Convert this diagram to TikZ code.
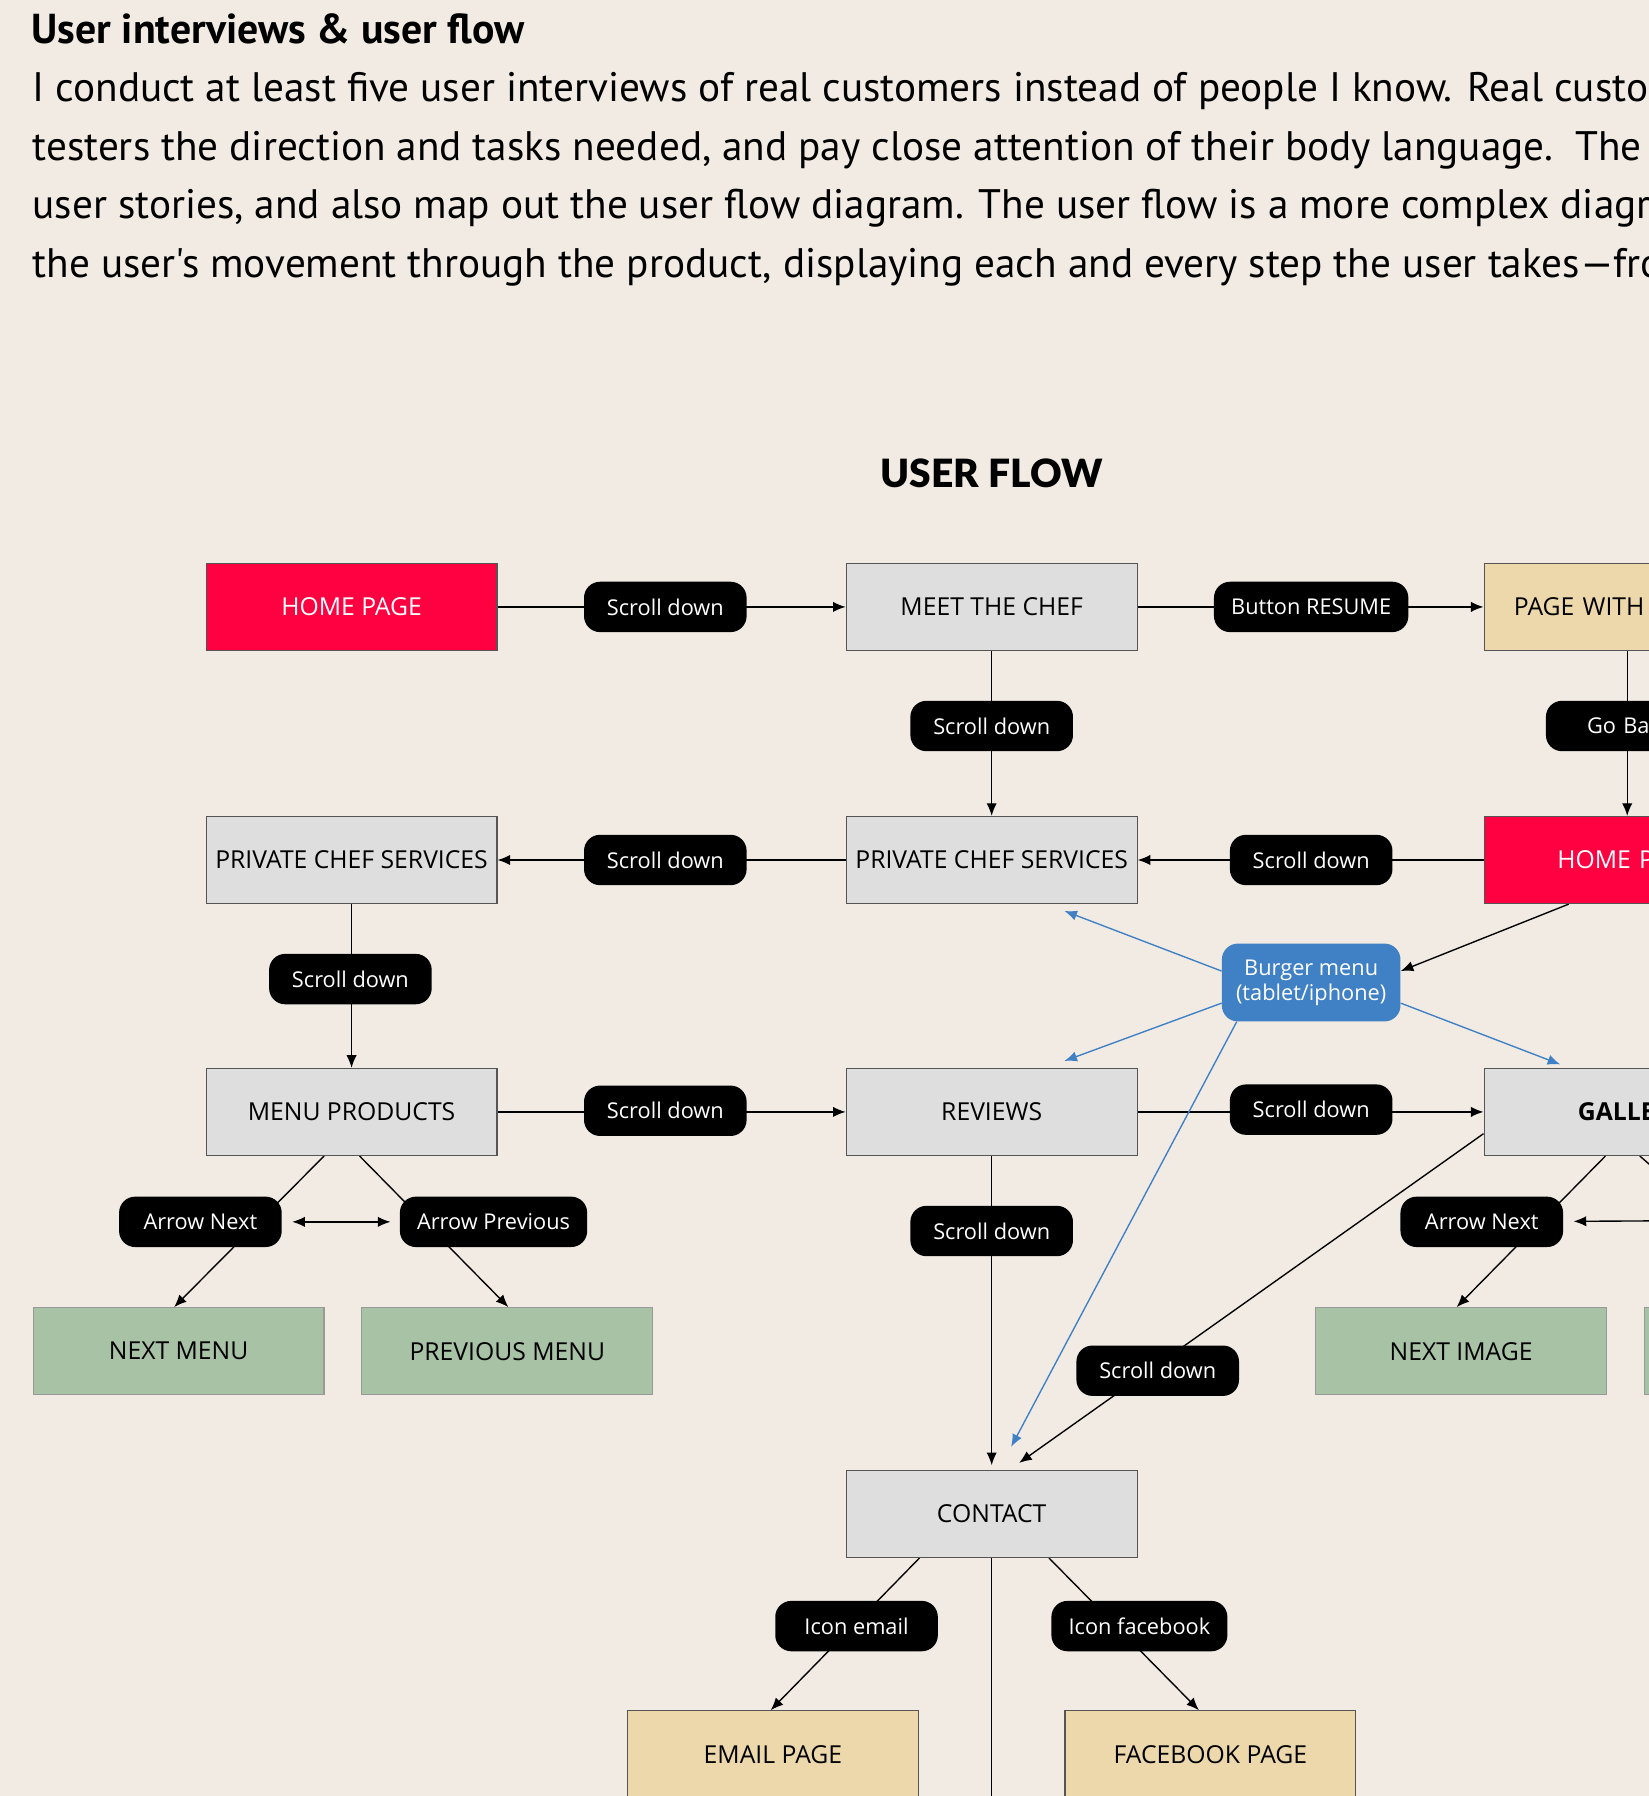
\documentclass[tikz,border=0pt]{standalone}
\usepackage{fontspec}
\setmainfont{Open Sans}
\newfontfamily\introfont{PT Sans}[Ligatures=TeXOff]
\newfontfamily\heavyfont{Lato Black}
\usetikzlibrary{arrows.meta,backgrounds}

\definecolor{pagebg}{HTML}{F2EBE4}
\definecolor{boxgray}{HTML}{DEDEDE}
\definecolor{boxred}{HTML}{FF0040}
\definecolor{boxsand}{HTML}{EDD8AB}
\definecolor{boxgreen}{HTML}{A7C2A5}
\definecolor{burgerblue}{HTML}{4080C5}
\definecolor{boxline}{HTML}{555555}

\begin{document}
\begin{tikzpicture}[x=1pt,y=-1pt,>={Latex[length=11pt,width=9pt]},
    pagebox/.style={draw=boxline, line width=1pt, minimum width=254pt, minimum height=76pt, inner sep=0pt, font=\fontsize{21.6}{26}\selectfont},
    graybox/.style={pagebox, fill=boxgray},
    redbox/.style={pagebox, fill=boxred, text=white},
    sandbox/.style={pagebox, fill=boxsand},
    greenbox/.style={pagebox, fill=boxgreen, draw=black!40},
    pill/.style={fill=black, text=white, rounded corners=14pt, minimum width=142pt, minimum height=44pt, inner xsep=15pt, font=\fontsize{19}{23}\selectfont},
    introtext/.style={anchor=base west, font=\fontsize{36}{42}\introfont},
    link/.style={line width=1.2pt},
    bluelink/.style={line width=1.2pt, draw=burgerblue, >={Latex[length=11pt,width=9pt,color=burgerblue]}}]

    \useasboundingbox (0,0) rectangle (1440,1568.4);
    \clip (0,0) rectangle (1440,1568.4);

    % Heading and text
    \node[anchor=base west, font=\fontsize{36.5}{42}\introfont\bfseries] (heading) at (24,38) {User interviews \& user flow};
    \node[introtext] (line1) at (25,89) {I conduct at least five user interviews of real customers instead of people I know. Real custom};
    \node[introtext] (line2) at (25,140) {testers the direction and tasks needed, and pay close attention of their body language.\ \ The};
    \node[introtext] (line3) at (25,191) {user stories, and also map out the user flow diagram. The user flow is a more complex diagram};
    \node[introtext] (line4) at (25,242) {the user's movement through the product, displaying each and every step the user takes—fro};

    \node[font=\fontsize{34}{40}\heavyfont] (flowtitle) at (866,413) {USER FLOW};

    % Pages
    \node[redbox] (home) at (307,530) {HOME PAGE};
    \node[graybox] (chef) at (866,530) {MEET THE CHEF};
    \node[sandbox, inner xsep=26pt, text width=202pt, align=left] (resume) at (1423,530) {PAGE WITH};
    \node[graybox] (servicesl) at (307,751) {PRIVATE CHEF SERVICES};
    \node[graybox] (servicesm) at (866,751) {PRIVATE CHEF SERVICES};
    \node[redbox, inner xsep=64pt, text width=126pt, align=left] (homer) at (1423,751) {HOME P};
    \node[graybox] (menu) at (307,971) {MENU PRODUCTS};
    \node[graybox] (reviews) at (866,971) {REVIEWS};
    \node[graybox, inner xsep=82pt, text width=90pt, align=left, font=\fontsize{21.6}{26}\selectfont\bfseries] (gallery) at (1423,971) {GALLE};
    \node[greenbox] (nextmenu) at (156,1180) {NEXT MENU};
    \node[greenbox] (prevmenu) at (443,1180) {PREVIOUS MENU};
    \node[greenbox] (nextimage) at (1276,1180) {NEXT IMAGE};
    \node[greenbox] (previmage) at (1563,1180) {};
    \node[graybox] (contact) at (866,1322) {CONTACT};
    \node[sandbox] (email) at (675,1532) {EMAIL PAGE};
    \node[sandbox] (facebook) at (1057,1532) {FACEBOOK PAGE};

    % Actions
    \node[pill] (scroll1) at (581,530) {Scroll down};
    \node[pill] (button) at (1145,530) {Button RESUME};
    \node[pill] (scroll2) at (866,634) {Scroll down};
    \node[pill, inner xsep=36pt, text width=70pt, align=left] (goback) at (1421,634) {Go Ba};
    \node[pill] (scroll3) at (581,751) {Scroll down};
    \node[pill] (scroll4) at (1145,751) {Scroll down};
    \node[pill] (scroll5) at (306,855) {Scroll down};
    \node[pill, fill=burgerblue, minimum width=156pt, minimum height=68pt, inner xsep=6pt, align=center, font=\fontsize{19}{22}\selectfont] (burger) at (1145,858) {Burger menu\\(tablet/iphone)};
    \node[pill] (scroll6) at (581,970) {Scroll down};
    \node[pill] (scroll7) at (1145,969) {Scroll down};
    \node[pill] (arrownext) at (175,1067) {Arrow Next};
    \node[pill] (arrowprev) at (431,1067) {Arrow Previous};
    \node[pill] (scroll8) at (866,1075) {Scroll down};
    \node[pill] (scroll9) at (1011,1197) {Scroll down};
    \node[pill] (arrownext2) at (1294,1067) {Arrow Next};
    \node[pill] (iconemail) at (748,1420) {Icon email};
    \node[pill] (iconfb) at (995,1420) {Icon facebook};

    % Off-page ends
    \coordinate (galleryout) at (1490,1060);
    \coordinate (arrowin) at (1470,1066);
    \coordinate (contactout) at (866,1600);

    \begin{pgfonlayer}{background}
    \clip (0,0) rectangle (1440,1568.4);
    \fill[pagebg] (0,0) rectangle (1440,1568.4);

    % Connectors
    \draw[link,->] (home) -- (chef);
    \draw[link,->] (chef) -- (resume);
    \draw[link,->] (chef) -- (servicesm);
    \draw[link,->] ([xshift=-2pt]resume.south) -- ([xshift=-2pt]homer.north);
    \draw[link,->] (servicesm) -- (servicesl);
    \draw[link,->] (homer) -- (servicesm);
    \draw[link,->] (servicesl) -- (menu);
    \draw[link,->] (menu) -- (reviews);
    \draw[link,->] (reviews) -- (gallery);
    \draw[link,->] ([xshift=-24pt]menu.south) -- ([xshift=-4pt]nextmenu.north);
    \draw[link,->] ([xshift=7pt]menu.south) -- ([xshift=1pt]prevmenu.north);
    \draw[link,<->,shorten <=9pt,shorten >=8pt] (arrownext) -- (arrowprev);
    \draw[link,->] (reviews) -- ([yshift=4pt]contact.north);
    \draw[link,->] ([yshift=-19pt]gallery.west) -- ([xshift=24pt,yshift=6pt]contact.north);
    \draw[link,->] ([xshift=-21pt]gallery.south) -- ([xshift=-4pt]nextimage.north);
    \draw[link] ([xshift=9pt]gallery.south) -- (galleryout);
    \draw[link,->,shorten >=9pt] (arrowin) -- (arrownext2);
    \draw[link,->] ([xshift=-53pt]homer.south) -- ([yshift=10pt]burger.east);
    \draw[bluelink,->] ([yshift=10pt]burger.west) -- ([xshift=-64pt,yshift=-6pt]servicesm.south east);
    \draw[bluelink,->] ([yshift=-18pt]burger.west) -- ([xshift=-64pt,yshift=6pt]reviews.north east);
    \draw[bluelink,->] ([yshift=-18pt]burger.east) -- ([xshift=67pt,yshift=3pt]gallery.north west);
    \draw[bluelink,->] ([xshift=-65pt]burger.south) -- ([xshift=17pt,yshift=20pt]contact.north);
    \draw[link,->] ([xshift=-63pt]contact.south) -- ([xshift=-2pt]email.north);
    \draw[link,->] ([xshift=50pt]contact.south) -- ([xshift=-10pt]facebook.north);
    \draw[link] (contact) -- (contactout);
    \end{pgfonlayer}

\end{tikzpicture}
\end{document}
